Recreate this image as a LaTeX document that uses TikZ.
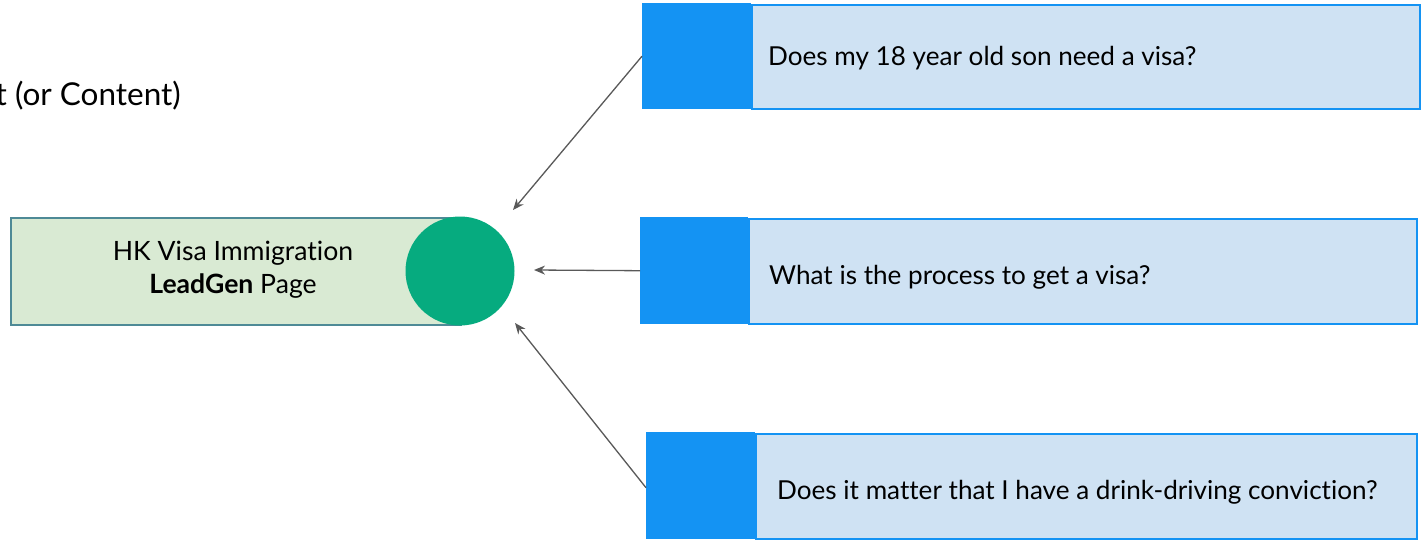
\documentclass[tikz,border=0pt]{standalone}
\usepackage{fontspec}
\setmainfont{Lato}[Ligatures={NoCommon}]
\usetikzlibrary{arrows.meta}
\definecolor{qblue}{HTML}{1493F3}
\definecolor{qlight}{HTML}{CFE2F3}
\definecolor{lgreen}{HTML}{D9EAD3}
\definecolor{gborder}{HTML}{4E8A96}
\definecolor{dotgreen}{HTML}{06AB7F}
\definecolor{arrowgray}{HTML}{595959}
\begin{document}
\begin{tikzpicture}[x=1pt,y=-1pt,
  qbox/.style={draw=qblue, line width=2pt, fill=qlight, inner sep=0pt, anchor=north west},
  qsq/.style={fill=qblue, inner sep=0pt, anchor=north west, minimum height=106pt},
  qtext/.style={anchor=west, inner sep=0pt, font=\fontsize{26.1}{31}\selectfont},
  conn/.style={draw=arrowgray, line width=1.3pt, -{Stealth[length=11pt,width=9pt]}}
]
\useasboundingbox (0,0) rectangle (1428,541);
\fill[white] (0,0) rectangle (1428,541);

% title fragment
\node[anchor=east, inner sep=0pt, font=\fontsize{31.5}{36}\selectfont] (title) at (181,96) {t (or Content)};

% left page box
\node[draw=gborder, line width=1.5pt, fill=lgreen, anchor=north west, inner sep=0pt,
      minimum width=450pt, minimum height=107pt] (page) at (10,217) {};
\node[fill=dotgreen, circle, inner sep=0pt, minimum size=109pt] (dot) at (460,271) {};
\node[align=center, inner sep=0pt, font=\fontsize{26.6}{33}\selectfont] (pagetext) at (233,270)
  {HK Visa Immigration\\\textbf{LeadGen} Page};

% question boxes
\node[qbox, minimum width=668pt, minimum height=104pt] (q1) at (751,4) {};
\node[qsq, minimum width=109pt] (b1) at (642,3) {};
\node[qtext] (t1) at (768,58) {Does my 18 year old son need a visa?};

\node[qbox, minimum width=668pt, minimum height=105pt] (q2) at (748,218) {};
\node[qsq, minimum width=108pt, minimum height=107pt] (b2) at (640,217) {};
\node[qtext] (t2) at (769,277) {What is the process to get a visa?};

\node[qbox, minimum width=661pt, minimum height=105pt] (q3) at (755,433) {};
\node[qsq, minimum width=109pt, minimum height=107pt] (b3) at (646,432) {};
\node[qtext] (t3) at (777,492) {Does it matter that I have a drink-driving conviction?};

% arrow targets
\coordinate (e1) at (513,210);
\coordinate (e2) at (534,270);
\coordinate (e3) at (515,323);
\draw[conn] (b1.west) -- (e1);
\draw[conn] (b2.west) -- (e2);
\draw[conn] ([yshift=-2pt]b3.west) -- (e3);
\end{tikzpicture}
\end{document}
